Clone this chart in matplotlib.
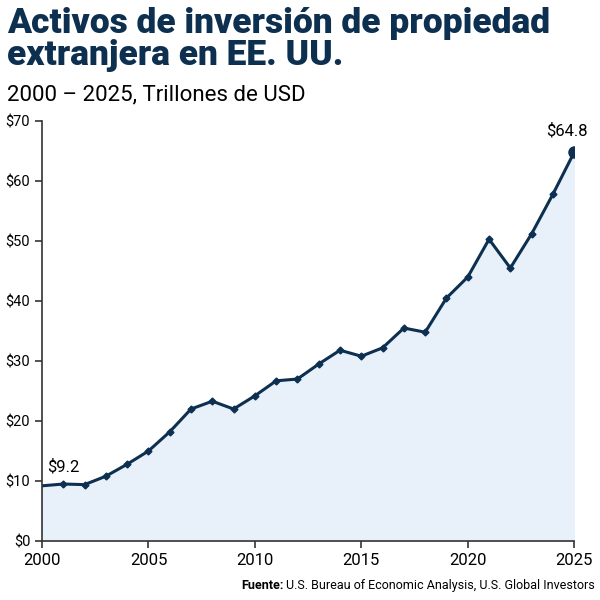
import matplotlib
matplotlib.use("Agg")
import matplotlib.pyplot as plt

# Data (trillions of USD)
years = list(range(2000, 2026))
assets = [9.2, 9.5, 9.4, 10.8, 12.8, 15.0, 18.2, 22.0, 23.3, 22.0,
          24.2, 26.7, 27.0, 29.5, 31.8, 30.8, 32.2, 35.5, 34.8, 40.5,
          44.0, 50.3, 45.5, 51.2, 57.8, 64.8]
y_ticks = [0, 10, 20, 30, 40, 50, 60, 70]
x_ticks = [2000, 2005, 2010, 2015, 2020, 2025]

navy = "#0d3050"
fill = "#e8f0fa"

plt.rcParams["font.family"] = ["Roboto", "DejaVu Sans"]

fig = plt.figure(figsize=(6, 6), dpi=100)
ax = fig.add_axes([0.07, 0.0983, 0.887, 0.70])

ax.fill_between(years, assets, 0, color=fill, zorder=1)
ax.plot(years, assets, color=navy, lw=2.2, zorder=2)
ax.plot(years[1:-1], assets[1:-1], "D", color=navy, ms=3.5, zorder=3)
ax.plot(years[-1], assets[-1], "o", color=navy, ms=8, zorder=4)

# first-year label sits a bit right of the axis, last-year label above the dot
ax.annotate(f"${assets[0]:.1f}", (years[0], assets[0]), xytext=(15, 8),
            textcoords="offset points", ha="center", va="bottom", fontsize=12)
ax.annotate(f"${assets[-1]:.1f}", (years[-1], assets[-1]), xytext=(-5, 10),
            textcoords="offset points", ha="center", va="bottom", fontsize=12)

ax.set_xlim(2000, 2025)
ax.set_ylim(0, 70)
ax.set_yticks(y_ticks)
ax.set_yticklabels([f"${v}" for v in y_ticks], fontsize=10.5)
ax.set_xticks(x_ticks)
ax.set_xticklabels([str(v) for v in x_ticks], fontsize=12)
for s in ["top", "right"]:
    ax.spines[s].set_visible(False)
for s in ["left", "bottom"]:
    ax.spines[s].set_color("#333333")
    ax.spines[s].set_linewidth(1.2)
ax.tick_params(colors="#333333", labelcolor="black", length=5, width=1.2)

fig.text(0.012, 0.988, "Activos de inversión de propiedad\nextranjera en EE. UU.",
         fontsize=25.5, fontweight="black", color=navy, va="top", ha="left",
         linespacing=0.95)
fig.text(0.012, 0.833, "2000 – 2025, Trillones de USD", fontsize=16,
         color="black", va="baseline", ha="left")

# source line: bold "Fuente:" placed right before the regular part
src = fig.text(0.992, 0.018, "U.S. Bureau of Economic Analysis, U.S. Global Investors",
               fontsize=9, ha="right", va="baseline")
fig.canvas.draw()
bb = src.get_window_extent().transformed(fig.transFigure.inverted())
fig.text(bb.x0 - 0.005, 0.018, "Fuente:", fontsize=9, fontweight="bold",
         ha="right", va="baseline")

fig.savefig("out.png", dpi=100)
